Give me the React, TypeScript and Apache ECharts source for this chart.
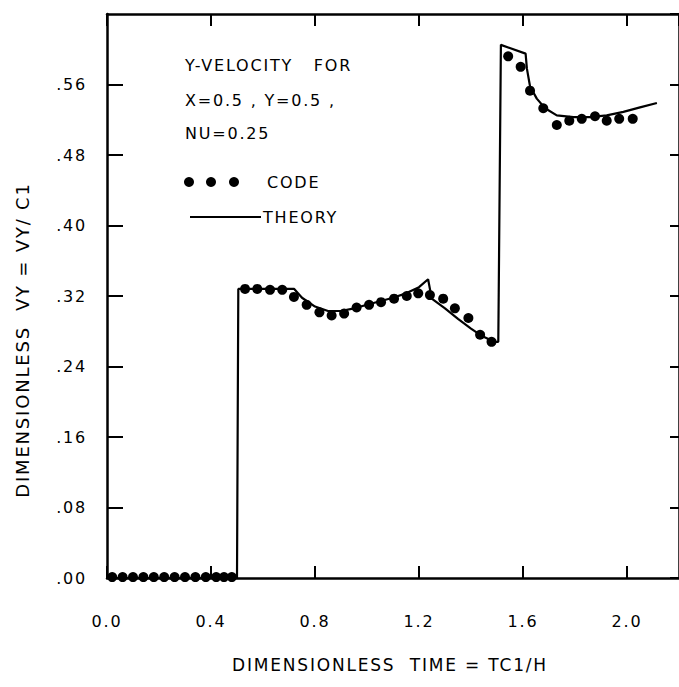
import React, { useEffect, useRef } from "react";
import * as echarts from "echarts";

// CODE results (dots): time, velocity
const codeT = [0.02, 0.06, 0.1, 0.14, 0.18, 0.22, 0.26, 0.3, 0.34, 0.38, 0.42, 0.45, 0.48,
  0.531, 0.578, 0.627, 0.674, 0.719, 0.768, 0.817, 0.864, 0.912, 0.96, 1.008, 1.054, 1.104, 1.153, 1.197, 1.242, 1.293, 1.338, 1.39, 1.435, 1.479,
  1.543, 1.591, 1.627, 1.678, 1.73, 1.778, 1.826, 1.877, 1.922, 1.97, 2.022];
const codeV = [0.001, 0.001, 0.001, 0.001, 0.001, 0.001, 0.001, 0.001, 0.001, 0.001, 0.001, 0.001, 0.001,
  0.328, 0.328, 0.327, 0.327, 0.319, 0.31, 0.3015, 0.298, 0.3, 0.307, 0.31, 0.313, 0.317, 0.32, 0.323, 0.321, 0.317, 0.306, 0.295, 0.276, 0.268,
  0.592, 0.58, 0.553, 0.533, 0.514, 0.519, 0.521, 0.524, 0.519, 0.521, 0.521];

// THEORY curve
const theoryT = [0, 0.5, 0.505, 0.72, 0.75, 0.8, 0.85, 0.9, 0.95, 1.0, 1.05, 1.1, 1.15, 1.2, 1.235, 1.249, 1.3, 1.35, 1.4, 1.44, 1.49, 1.505,
  1.515, 1.61, 1.615, 1.627, 1.653, 1.685, 1.73, 1.794, 1.858, 1.922, 1.986, 2.05, 2.115];
const theoryV = [0, 0, 0.328, 0.328, 0.318, 0.308, 0.303, 0.303, 0.306, 0.31, 0.314, 0.318, 0.323, 0.33, 0.339, 0.317, 0.306, 0.294, 0.283, 0.275, 0.268, 0.268,
  0.605, 0.595, 0.578, 0.558, 0.544, 0.533, 0.525, 0.523, 0.523, 0.525, 0.529, 0.534, 0.539];

const noteLines = ["Y-VELOCITY   FOR", "X=0.5 , Y=0.5 ,", "NU=0.25"];
const legendNames = ["CODE", "THEORY"];
const xTitle = "DIMENSIONLESS  TIME = TC1/H";
const yTitle = "DIMENSIONLESS  VY = VY/ C1";

const INK = "#000";
const FONT = "DejaVu Sans";

export default function App() {
  const ref = useRef<HTMLDivElement>(null);
  useEffect(() => {
    if (!ref.current) return;
    const chart = echarts.init(ref.current, undefined, { renderer: "svg" });
    const axisLine = { show: true, onZero: false, lineStyle: { color: INK, width: 2.5 } };
    const label = { color: INK, fontSize: 16, fontFamily: FONT };
    const codeData = codeT.map((t, i) => [t, codeV[i]]);
    const theoryData = theoryT.map((t, i) => [t, theoryV[i]]);
    const noteGraphics = noteLines.map((s, i) => ({
      type: "text",
      style: { text: s, x: 185, y: [65, 100, 133][i], verticalAlign: "middle", fill: INK, font: `16px '${FONT}'` },
    }));
    chart.setOption({
      animation: false,
      backgroundColor: "#fff",
      grid: { left: 107, top: 14, width: 574, height: 564 },
      xAxis: [
        {
          type: "value", min: 0, max: 2.2, interval: 0.4, position: "bottom",
          axisLine, splitLine: { show: false },
          axisTick: { inside: true, length: 12, lineStyle: { color: INK, width: 2 } },
          axisLabel: { ...label, margin: 35, showMaxLabel: false, formatter: (v: number) => v.toFixed(1) },
        },
        {
          type: "value", min: 0, max: 2.2, interval: 0.4, position: "top",
          axisLine, splitLine: { show: false },
          axisTick: { inside: true, length: 12, lineStyle: { color: INK, width: 2 } },
          axisLabel: { show: false },
        },
      ],
      yAxis: [
        {
          type: "value", min: 0, max: 0.64, interval: 0.08, position: "left",
          axisLine, splitLine: { show: false },
          axisTick: { inside: true, length: 16, lineStyle: { color: INK, width: 2 } },
          axisLabel: { ...label, margin: 20, showMaxLabel: false, formatter: (v: number) => v.toFixed(2).replace(/^0/, "") },
        },
        {
          type: "value", min: 0, max: 0.64, interval: 0.08, position: "right",
          axisLine, splitLine: { show: false },
          axisTick: { inside: true, length: 9, lineStyle: { color: INK, width: 2 } },
          axisLabel: { show: false },
        },
      ],
      series: [
        {
          name: legendNames[1], type: "line", data: theoryData, showSymbol: false,
          lineStyle: { color: INK, width: 2.2 }, z: 2,
        },
        {
          name: legendNames[0], type: "scatter", data: codeData, symbol: "circle", symbolSize: 10,
          itemStyle: { color: INK, opacity: 1 }, z: 3,
        },
      ],
      graphic: [
        ...noteGraphics,
        { type: "circle", shape: { cx: 189, cy: 182, r: 5 }, style: { fill: INK } },
        { type: "circle", shape: { cx: 211, cy: 182, r: 5 }, style: { fill: INK } },
        { type: "circle", shape: { cx: 234, cy: 182, r: 5 }, style: { fill: INK } },
        { type: "text", style: { text: legendNames[0], x: 267, y: 182, verticalAlign: "middle", fill: INK, font: `16px '${FONT}'` } },
        { type: "line", shape: { x1: 190, y1: 217, x2: 261, y2: 217 }, style: { stroke: INK, lineWidth: 2 } },
        { type: "text", style: { text: legendNames[1], x: 263, y: 217, verticalAlign: "middle", fill: INK, font: `16px '${FONT}'` } },
        { type: "text", style: { text: xTitle, x: 390, y: 665, align: "center", verticalAlign: "middle", fill: INK, font: `17px '${FONT}'` } },
        { type: "text", x: 22, y: 340, rotation: Math.PI / 2, style: { text: yTitle, x: 0, y: 0, align: "center", verticalAlign: "middle", fill: INK, font: `18px '${FONT}'` } },
      ],
    });
    return () => chart.dispose();
  }, []);
  return (
    <div style={{ position: "fixed", left: 0, top: 0, width: 679, height: 687, background: "#fff" }}>
      <style>{`.vy-chart svg text { letter-spacing: 1.8px; white-space: pre; }`}</style>
      <div className="vy-chart" ref={ref} style={{ width: 679, height: 687 }} />
    </div>
  );
}
